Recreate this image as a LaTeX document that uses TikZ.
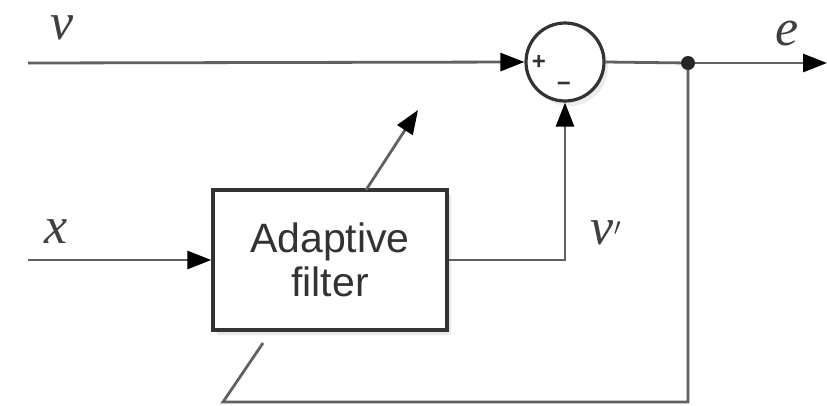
\documentclass[tikz,border=0pt]{standalone}
\usepackage{fontspec}
\setmainfont{Liberation Serif}
\setsansfont{Liberation Sans}
\usetikzlibrary{arrows.meta,shadows}
\begin{document}
\begin{tikzpicture}[x=1pt,y=-1pt,
  sig/.style={draw=black!62, line width=2.8pt},
  arr/.style={sig, -{Triangle[length=24pt,width=18pt,fill=black,color=black]}},
  box/.style={draw=black!80, line width=3.4pt, fill=white, minimum width=234pt, minimum height=140pt,
    align=center, font=\sffamily\fontsize{41}{44}\selectfont, text=black!80,
    drop shadow={shadow xshift=4pt, shadow yshift=-5pt, fill=black!18}},
  sumc/.style={circle, draw=black!80, line width=3.2pt, fill=white, minimum size=78pt, inner sep=0pt,
    drop shadow={shadow xshift=4pt, shadow yshift=-5pt, fill=black!15}},
  lab/.style={font=\itshape\fontsize{52}{52}\selectfont, text=black!75, inner sep=0pt},
  sgn/.style={font=\sffamily\bfseries\fontsize{24}{24}\selectfont, text=black!80, inner sep=0pt}
]
\useasboundingbox (0,0) rectangle (827,405);
\coordinate (vin) at (28,63);
\coordinate (xin) at (28,260);
\coordinate (dot) at (688,63);
\coordinate (eout) at (827,63);
\coordinate (bl) at (223,402);
\coordinate (br) at (688,402);
\coordinate (corner) at (565,260);
\coordinate (ad1) at (263,343);
\coordinate (ad2) at (366,190);
\coordinate (adtip) at (418,110);

\node[box] (af) at (330,260) {Adaptive\\filter};
\node[sumc] (sum) at (565,62) {};
\node[sgn] (plus) at (539,62) {+};
\node[sgn] (minus) at (564,87) {\textminus};

\draw[arr] (vin) -- (sum.west);
\draw[arr] (xin) -- (af.west);
\draw[arr] (af.east |- corner) -- (corner) -- (sum.south);
\draw[sig] (sum.east) -- (dot);
\draw[arr] (dot) -- (eout);
\draw[sig] (dot) -- (br) -- (bl) -- (ad1);
\draw[arr] (ad2) -- (adtip);
\fill[black!85] (dot) circle (7pt);

\node[lab] (lv) at (62,28) {v};
\node[lab] (lx) at (56,232) {x};
\node[lab] (le) at (787,33) {e};
\node[lab] (lvp) at (606,233) {v$'$};
\end{tikzpicture}
\end{document}
